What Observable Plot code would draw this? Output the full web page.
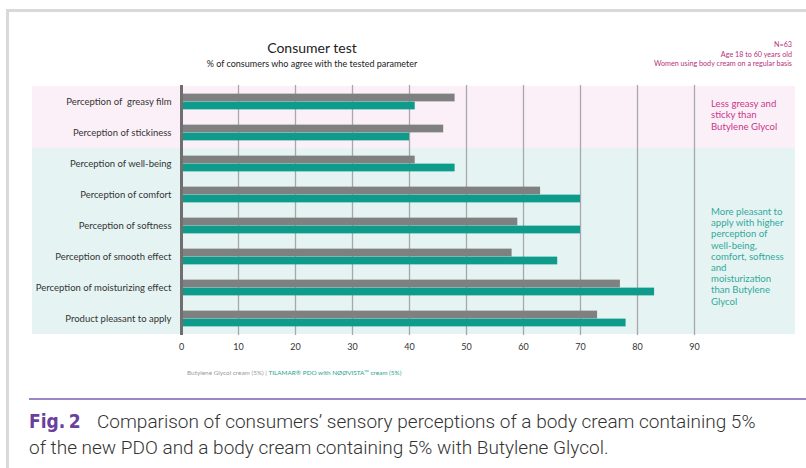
<!DOCTYPE html>
<html><head><meta charset="utf-8">
<script src="https://cdn.jsdelivr.net/npm/d3@7"></script>
<script src="https://cdn.jsdelivr.net/npm/@observablehq/plot@0.6"></script>
<style>
html,body{margin:0;padding:0;background:#fff;}
#wrap{position:relative;width:806px;height:468px;overflow:hidden;font-family:Lato,"Open Sans",sans-serif;}
.abs{position:absolute;white-space:nowrap;}
.cap{font-family:Roboto,sans-serif;font-weight:300;font-size:19px;line-height:22px;color:#333;transform-origin:0 50%;}
</style></head>
<body>
<div id="wrap">
  <div class="abs" style="left:6px;top:9px;width:800px;height:3px;background:#d9d9d9"></div>
  <div class="abs" style="left:6px;top:9px;width:3px;height:459px;background:#d9d9d9"></div>
  <div id="chart" class="abs" style="left:0;top:0"></div>
  <div class="abs" id="title" style="left:212px;width:200px;text-align:center;top:39px;font-size:14px;color:#222">Consumer test</div>
  <div class="abs" id="subtitle" style="left:162px;width:300px;text-align:center;top:58px;font-size:9px;color:#222">% of consumers who agree with the tested parameter</div>
  <div class="abs" id="info" style="right:14px;top:40px;text-align:right;font-size:7.2px;line-height:9.5px;color:#b8307e"></div>
  <div class="abs" id="note1" style="left:711px;top:98px;font-size:9.6px;line-height:11.3px;color:#c8388a"></div>
  <div class="abs" id="note2" style="left:711px;top:206px;font-size:9.6px;line-height:11.2px;color:#33a99b"></div>
  <div class="abs" id="legend" style="left:187px;top:369px;font-size:6.4px;"></div>
  <div class="abs" style="left:29px;top:398px;width:777px;height:2px;background:#9d86c3"></div>
  <div class="abs" id="fig" style="left:29px;top:410px;font-family:'Liberation Sans Narrow','DejaVu Sans Condensed',Roboto,sans-serif;font-weight:700;color:#6b3f9c;font-size:19px;line-height:22px"></div>
  <div class="abs cap" id="cap1" style="left:97px;top:411px"></div>
  <div class="abs cap" id="cap2" style="left:29px;top:437px"></div>
</div>
<script>
const categories = [
  "Perception of  greasy film",
  "Perception of stickiness",
  "Perception of well-being",
  "Perception of comfort",
  "Perception of softness",
  "Perception of smooth effect",
  "Perception of moisturizing effect",
  "Product pleasant to apply"
];
const groups = ["pink","pink","teal","teal","teal","teal","teal","teal"];
const butylene = [48, 46, 41, 63, 59, 58, 77, 73];
const tilamar  = [41, 40, 48, 70, 70, 66, 83, 78];
const xTicks = [0, 10, 20, 30, 40, 50, 60, 70, 80, 90];
const seriesNames = ["Butylene Glycol cream (5%)", "TILAMAR\u00AE PDO with N\u00D8\u00D8VISTA\u2122 cream (5%)"];
const infoLines = ["N=63", "Age 18 to 60 years old", "Women using body cream on a regular basis"];
const note1Lines = ["Less greasy and", "sticky than", "Butylene Glycol"];
const note2Lines = ["More pleasant to", "apply with higher", "perception of", "well-being,", "comfort, softness", "and", "moisturization", "than Butylene", "Glycol"];
const figLabel = "Fig.\u202F2";
const captionLines = [
  "Comparison of consumers\u2019 sensory perceptions of a body cream containing 5%",
  "of the new PDO and a body cream containing 5% with Butylene Glycol."
];

const colors = {gray: "#7f8180", teal: "#0e9b8c"};
const bgColors = {pink: "#fcf0f8", teal: "#e5f4f3"};

const rows = categories.map((c, i) => ({category: c, group: groups[i], b: butylene[i], t: tilamar[i]}));
const bandH = 250 / categories.length;
const barH = 8;

const chart = Plot.plot({
  width: 806,
  height: 390,
  marginTop: 85,
  marginBottom: 55,
  marginLeft: 32,
  marginRight: 11,
  style: {fontFamily: "Lato, 'Open Sans', sans-serif", background: "transparent"},
  x: {domain: [0, 90], range: [181, 694], axis: null},
  y: {domain: categories, padding: 0, axis: null},
  marks: [
    Plot.cell(rows, {y: "category", fill: d => bgColors[d.group], inset: 0}),
    Plot.ruleX(xTicks.slice(1), {stroke: "#a8a8a8", strokeWidth: 1.3}),
    Plot.barX(rows, {y: "category", x1: 0, x2: "b", fill: colors.gray, insetTop: bandH / 2 - barH, insetBottom: bandH / 2}),
    Plot.barX(rows, {y: "category", x1: 0, x2: "t", fill: colors.teal, insetTop: bandH / 2, insetBottom: bandH / 2 - barH}),
    Plot.ruleX([0], {stroke: "#6f6f6f", strokeWidth: 3}),
    Plot.text(rows, {y: "category", x: d => 0, text: "category", textAnchor: "end", dx: -10, fontSize: 9.5, fill: "#333"}),
    Plot.axisX({ticks: xTicks, tickSize: 0, tickPadding: 8, fontSize: 9, color: "#333", tickFormat: d => String(d)})
  ]
});
document.getElementById("chart").appendChild(chart);

document.getElementById("info").innerHTML = infoLines.join("<br>");
document.getElementById("note1").innerHTML = note1Lines.join("<br>");
document.getElementById("note2").innerHTML = note2Lines.join("<br>");
document.getElementById("legend").innerHTML =
  `<span style="color:#9a9a9a">${seriesNames[0]}</span><span style="color:#9a9a9a"> | </span><span style="color:#1fa494">${seriesNames[1]}</span>`;
document.getElementById("fig").textContent = figLabel;
const c1 = document.getElementById("cap1"), c2 = document.getElementById("cap2");
c1.textContent = captionLines[0];
c2.textContent = captionLines[1];
// condense the caption font horizontally to match the original's narrow typeface
const w1 = c1.getBoundingClientRect().width;
const s = Math.min(1, 686 / w1);
c1.style.transform = `scaleX(${s})`;
c2.style.transform = `scaleX(${s})`;
</script>
</body></html>
